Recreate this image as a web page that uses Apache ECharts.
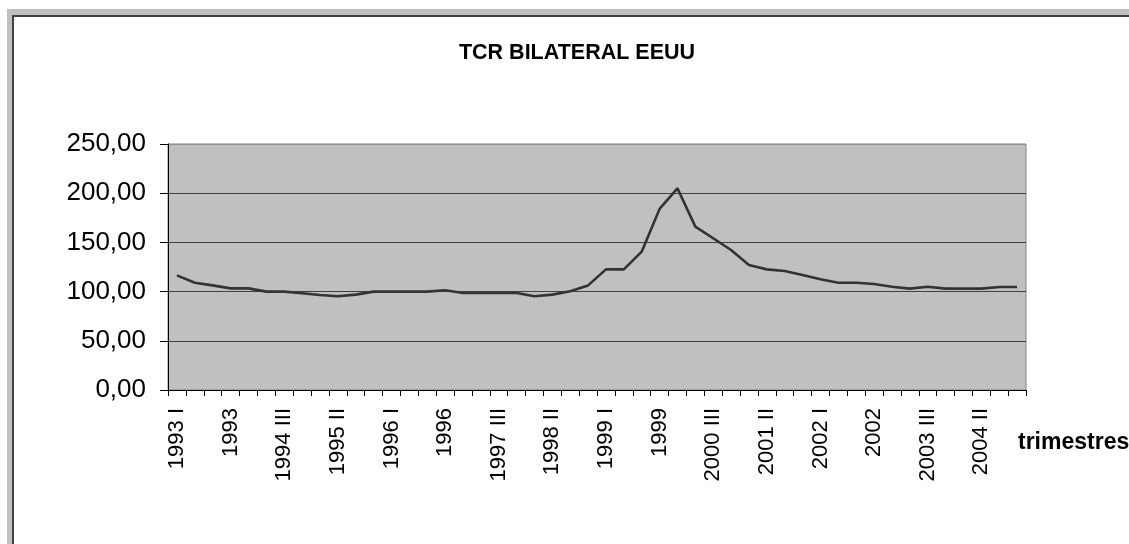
<!DOCTYPE html>
<html>
<head>
<meta charset="utf-8">
<script src="https://cdn.jsdelivr.net/npm/echarts@6/dist/echarts.min.js"></script>
<style>
html,body{margin:0;padding:0;background:#fff;}
#c{width:1129px;height:544px;}
</style>
</head>
<body>
<div id="c"></div>
<script>
const titleText = 'TCR BILATERAL EEUU';
const axisName = 'trimestres';
const categories = [
  '1993 I','1993 II','1993 III','1993',
  '1994 I','1994 II','1994 III','1994',
  '1995 I','1995 II','1995 III','1995',
  '1996 I','1996 II','1996 III','1996',
  '1997 I','1997 II','1997 III','1997',
  '1998 I','1998 II','1998 III','1998',
  '1999 I','1999 II','1999 III','1999',
  '2000 I','2000 II','2000 III','2000',
  '2001 I','2001 II','2001 III','2001',
  '2002 I','2002 II','2002 III','2002',
  '2003 I','2003 II','2003 III','2003',
  '2004 I','2004 II','2004 III','2004'
];
const tcrValues = [
  116.5, 109.0, 106.3, 103.3,
  103.3, 100.0, 100.0, 98.3,
  96.5, 95.2, 96.9, 100.0,
  100.0, 100.0, 100.0, 101.3,
  98.6, 98.6, 98.6, 98.6,
  95.2, 96.9, 100.3, 106.3,
  122.6, 122.6, 140.6, 184.0,
  205.0, 166.0, 154.2, 142.3,
  127.0, 122.6, 121.0, 116.9,
  112.5, 109.0, 109.0, 107.7,
  105.0, 103.0, 105.0, 103.0,
  103.0, 103.0, 104.6, 104.6
];
const yMin = 0, yMax = 250, yStep = 50;

const chart = echarts.init(document.getElementById('c'), null, {renderer:'canvas'});
const FONT = 'Liberation Sans, Arial, sans-serif';
chart.setOption({
  animation: false,
  backgroundColor: '#ffffff',
  graphic: [
    {type:'rect', z:-30, silent:true, shape:{x:7,y:9,width:1300,height:700}, style:{fill:'#c0c0c0'}},
    {type:'rect', z:-29, silent:true, shape:{x:12,y:15,width:1300,height:700}, style:{fill:'#404040'}},
    {type:'rect', z:-28, silent:true, shape:{x:14,y:17,width:1300,height:700}, style:{fill:'#ffffff'}},
    {type:'text', z:10, silent:true, x:1018, y:443,
      style:{text: axisName, fill:'#000', font:'bold 23px Liberation Sans, Arial, sans-serif', textAlign:'left', textVerticalAlign:'middle', verticalAlign:'middle'}}
  ],
  title: {
    text: titleText,
    left: 572,
    top: 37,
    textAlign: 'center',
    textStyle: {fontFamily: FONT, fontSize: 21.5, fontWeight: 'bold', color: '#000'}
  },
  grid: {
    left: 168, right: 103, top: 144, bottom: 154,
    show: true, backgroundColor: '#c0c0c0', borderColor: '#808080', borderWidth: 1
  },
  xAxis: {
    type: 'category',
    data: categories,
    boundaryGap: true,
    axisLine: {show: true, lineStyle: {color: '#000', width: 1}},
    axisTick: {show: true, interval: 0, length: 6, lineStyle: {color: '#000'}},
    axisLabel: {interval: 2, rotate: 90, margin: 18, fontFamily: FONT, fontSize: 22, color: '#000'},
    splitLine: {show: false}
  },
  yAxis: {
    type: 'value',
    min: yMin, max: yMax, interval: yStep,
    axisLine: {show: true, lineStyle: {color: '#000', width: 1}},
    axisTick: {show: true, length: 8, lineStyle: {color: '#000'}},
    axisLabel: {margin: 22, fontFamily: FONT, fontSize: 26, color: '#000',
      formatter: v => v.toFixed(2).replace('.', ',')},
    splitLine: {show: true, lineStyle: {color: ['#404040','#404040','#404040','#404040','#404040','#909090'], width: 1}}
  },
  series: [{
    type: 'line',
    data: tcrValues,
    symbol: 'none',
    lineStyle: {color: '#333333', width: 2.6},
    z: 5
  }]
});
</script>
</body>
</html>
